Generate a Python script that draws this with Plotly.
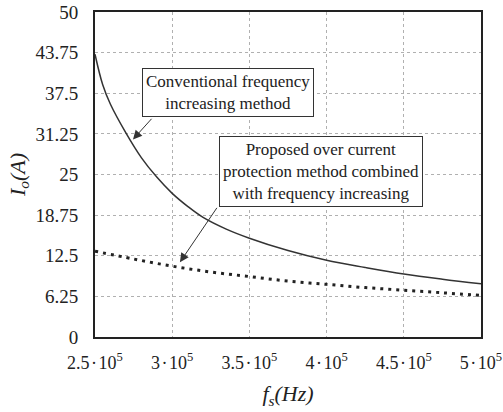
import plotly.graph_objects as go

# Data
f_conv = [2.5e5, 2.55e5, 2.6e5, 2.7e5, 2.8e5, 2.9e5, 3.0e5, 3.1e5, 3.2e5, 3.35e5,
          3.5e5, 3.75e5, 4.0e5, 4.25e5, 4.5e5, 4.75e5, 5.0e5]
i_conv = [43.5, 38.8, 35.8, 31.4, 27.6, 24.6, 22.1, 20.1, 18.4, 16.6,
          15.2, 13.3, 11.8, 10.7, 9.7, 8.9, 8.2]

f_prop = [2.5e5, 2.75e5, 3.0e5, 3.25e5, 3.5e5, 3.75e5, 4.0e5, 4.25e5, 4.5e5, 4.75e5, 5.0e5]
i_prop = [13.2, 12.0, 10.9, 10.0, 9.3, 8.6, 8.1, 7.6, 7.2, 6.8, 6.4]

x_ticks = [2.5e5, 3.0e5, 3.5e5, 4.0e5, 4.5e5, 5.0e5]
x_ticktext = ["2.5\u200a·\u200a10<sup>5</sup>", "3\u200a·\u200a10<sup>5</sup>",
              "3.5\u200a·\u200a10<sup>5</sup>", "4\u200a·\u200a10<sup>5</sup>",
              "4.5\u200a·\u200a10<sup>5</sup>", "5\u200a·\u200a10<sup>5</sup>"]
y_ticks = [0, 6.25, 12.5, 18.75, 25, 31.25, 37.5, 43.75, 50]
y_ticktext = ["0", "6.25", "12.5", "18.75", "25", "31.25", "37.5", "43.75", "50"]

FONT = "Liberation Serif"
INK = "#222222"

fig = go.Figure()
fig.add_trace(go.Scatter(x=f_conv, y=i_conv, mode="lines",
                         line=dict(color="#333333", width=1.5, shape="spline", smoothing=1.0),
                         showlegend=False, hoverinfo="skip"))
fig.add_trace(go.Scatter(x=f_prop, y=i_prop, mode="lines",
                         line=dict(color="#222222", width=3, dash="3px,5px", shape="spline"),
                         showlegend=False, hoverinfo="skip"))

axis_common = dict(showline=True, mirror=True, linecolor="#222222", linewidth=2,
                   showgrid=True, gridcolor="#b0b0b0", gridwidth=1, griddash="dot",
                   zeroline=False, ticks="outside", tickcolor="rgba(0,0,0,0)",
                   automargin=False, ticklabeloverflow="allow")

fig.update_xaxes(range=[2.5e5, 5.0e5], tickvals=x_ticks, ticktext=x_ticktext, ticklen=8,
                 tickfont=dict(family=FONT, size=18, color=INK),
                 title=dict(text="<i>f<sub>s</sub>(Hz)</i>",
                            font=dict(family=FONT, size=22, color=INK), standoff=14),
                 **axis_common)
fig.update_yaxes(range=[0, 50], tickvals=y_ticks, ticktext=y_ticktext, ticklen=11,
                 tickfont=dict(family=FONT, size=19, color=INK),
                 title=dict(text="<i>I<sub>o</sub>(A)</i>",
                            font=dict(family=FONT, size=22, color=INK), standoff=4),
                 **axis_common)

box_font = dict(family=FONT, size=17, color=INK)
fig.add_annotation(x=3.364e5, y=37.6, xref="x", yref="y", showarrow=False,
                   text="Conventional frequency<br>increasing method",
                   font=box_font, bgcolor="white", bordercolor="#333333",
                   borderwidth=1, borderpad=3, xanchor="center", yanchor="middle")
fig.add_annotation(x=3.965e5, y=25.4, xref="x", yref="y", showarrow=False,
                   text="Proposed over current<br>protection method combined<br>with frequency increasing",
                   font=box_font, bgcolor="white", bordercolor="#333333",
                   borderwidth=1, borderpad=3, xanchor="center", yanchor="middle")

# arrows
fig.add_annotation(x=2.746e5, y=30.4, ax=2.875e5, ay=33.8, xref="x", yref="y",
                   axref="x", ayref="y", text="", showarrow=True,
                   arrowhead=2, arrowsize=1.8, arrowwidth=1, arrowcolor="#333333")
fig.add_annotation(x=3.05e5, y=11.5, ax=3.296e5, ay=20.1, xref="x", yref="y",
                   axref="x", ayref="y", text="", showarrow=True,
                   arrowhead=2, arrowsize=1.8, arrowwidth=1, arrowcolor="#333333")

fig.update_layout(width=503, height=412, margin=dict(l=95, r=22, t=12, b=75),
                  paper_bgcolor="white", plot_bgcolor="white",
                  font=dict(family=FONT, color=INK))

fig.write_html("out.html")
